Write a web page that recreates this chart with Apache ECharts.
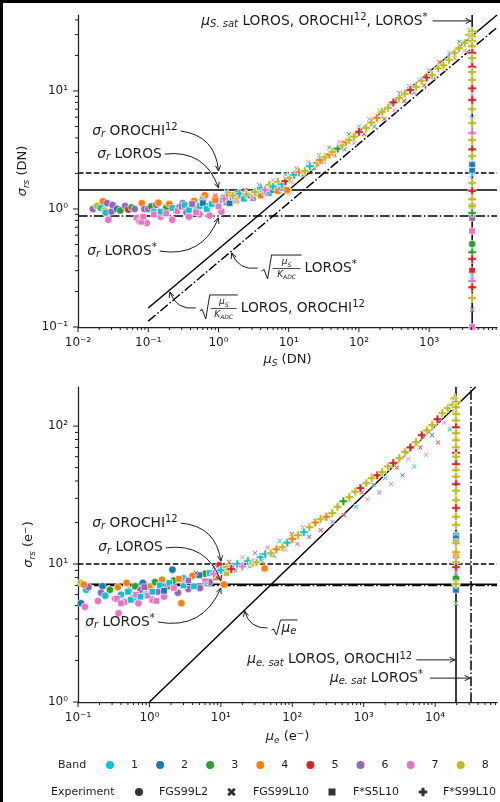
<!DOCTYPE html>
<html><head><meta charset="utf-8">
<script src="https://cdn.jsdelivr.net/npm/echarts@6/dist/echarts.min.js"></script>
<style>html,body{margin:0;padding:0;background:#fff;overflow:hidden}#c{width:500px;height:802px}.bl{position:absolute;background:#000}</style>
</head><body>
<div id="c"></div>
<div class="bl" style="left:0;top:0;width:3px;height:802px"></div>
<div class="bl" style="left:0;top:0;width:500px;height:3px"></div>
<script>
// ---------- data ----------
const bandColors = ['#17becf','#1f77b4','#2ca02c','#ff7f0e','#d62728','#9467bd','#e377c2','#bcbd22'];
const bandLabels = ['1','2','3','4','5','6','7','8'];
const experimentLabels = ['FGS99L2','FGS99L10','F*S5L10','F*S99L10'];

// top panel (DN): [mu_S, sigma_rs, band]
const dnFGS99L2 = [[0.0163,1.00,6],[0.0186,1.06,8],[0.021,1.02,1],[0.0226,1.16,4],[0.024,0.97,8],[0.026,1.12,6],[0.025,0.93,1],[0.027,0.81,7],[0.030,0.95,6],[0.031,1.08,6],[0.036,1.0,2],[0.040,0.97,3],[0.047,1.06,6],[0.052,0.99,5],[0.058,1.03,3],[0.064,1.00,6],[0.069,0.84,7],[0.075,0.79,7],[0.081,1.12,4],[0.088,1.0,6],[0.095,0.76,7],[0.1,1.0,6],[0.11,1.05,3],[0.12,0.95,1],[0.13,1.08,6],[0.14,1.13,4],[0.15,0.86,7],[0.16,0.92,7],[0.18,1.02,3],[0.2,1.1,4],[0.22,0.81,7],[0.25,0.97,2],[0.28,1.04,6],[0.31,1.12,6],[0.35,0.94,6],[0.38,0.86,7],[0.42,1.08,3],[0.45,1.17,4],[0.5,1.0,6],[0.54,0.9,7],[0.6,1.2,3],[0.64,1.31,4],[0.7,1.05,1],[0.75,0.88,7],[0.83,1.12,6],[0.9,1.22,5],[1.0,1.08,6],[1.1,0.95,7],[1.2,1.25,3],[1.4,1.32,4],[1.6,1.2,6],[1.9,1.35,2],[2.3,1.28,6],[9.8,1.42,4],[4095,0.505,3],[4095,1.06,6]];
const dnFGS99L10 = [[0.6,1.25,7],[0.9,1.3,5],[1.3,1.4,1],[1.8,1.15,8],[2.4,1.45,5],[3.0,1.25,7],[3.8,1.6,6],[4.8,1.35,2],[6,1.75,7],[7.5,1.5,5],[9,1.95,1],[11,1.7,7],[13,2.2,6],[16,1.95,2],[19,2.5,7],[23,2.2,5],[27,2.85,1],[32,2.5,7],[38,3.3,6],[45,2.85,5],[53,3.7,7],[62,3.2,2],[72,4.3,3],[85,3.6,7],[100,5.0,1],[118,4.3,5],[140,5.8,7],[165,5.0,2],[195,6.8,6],[230,5.8,5],[270,7.8,1],[320,6.9,7],[380,9.6,2],[440,8.2,5],[520,11.0,7],[610,9.6,6],[720,12.5,1],[850,11.2,5],[1000,15,7],[1180,12.8,2],[1400,17.5,5],[1650,15.3,7],[1950,21,1],[2300,19,5],[2700,26,2],[3200,22,7],[3700,33,1],[4095,27,7],[4095,23,5],[4095,18,1],[4095,13.5,6],[4095,9.5,7],[4095,5.9,2],[4095,2.6,7],[4095,1.94,1],[4095,0.276,1],[4095,0.14,5]];
const dnFS5L10 = [[0.08,0.78,7],[0.085,0.86,7],[0.12,0.9,7],[0.15,0.95,1],[0.18,0.92,7],[0.22,1.02,1],[0.26,0.96,7],[0.3,1.05,6],[0.33,1.08,1],[0.38,0.98,1],[0.42,1.1,6],[0.48,0.94,7],[0.54,1.06,1],[0.6,1.12,2],[0.68,1.0,1],[0.8,1.1,1],[0.9,1.18,4],[1.0,1.05,7],[1.15,1.2,1],[1.3,1.14,6],[1.44,1.12,2],[1.6,1.26,1],[1.8,1.18,7],[2.0,1.29,4],[2.3,1.22,1],[2.7,1.3,2],[3.1,1.24,6],[3.5,1.35,1],[4.0,1.3,4],[4.6,1.4,7],[5.2,1.36,1],[6.0,1.45,2],[7.0,1.42,4],[8.2,1.5,1],[9.5,1.45,4],[4095,2.4,2],[4095,2.1,2],[4095,0.84,6],[4095,0.65,7],[4095,0.30,5],[4095,0.10,7]];
const dnFS99L10 = [[1.2,1.22,7],[1.6,1.3,8],[2.0,1.35,1],[2.5,1.33,8],[3.3,1.39,8],[4.0,1.5,1],[4.6,1.45,7],[5.3,1.6,8],[6.0,1.55,1],[7.0,1.7,8],[8.0,1.62,1],[9.0,1.72,5],[10.3,1.83,8],[12,1.95,1],[14,2.05,4],[17,2.1,8],[20,2.3,1],[25,2.45,8],[28,2.6,4],[33,2.75,8],[38,2.9,4],[42,3.04,8],[50,3.25,3],[58,3.45,8],[65,3.7,4],[73,3.84,8],[85,4.1,8],[100,4.5,5],[127,4.86,8],[150,5.4,8],[180,5.9,4],[215,6.64,8],[260,7.2,8],[310,8.0,5],[375,8.73,8],[450,9.5,8],[540,10.2,5],[653,10.8,8],[780,12.2,8],[920,13.0,5],[1100,13.7,8],[1350,15.5,8],[1600,16.5,8],[1923,18.3,8],[2300,21,8],[2670,23.1,8],[3200,25.5,8],[3700,29.8,8],[4095,32,8],[4095,29,8],[4095,26.5,8],[4095,24,8],[4095,21,5],[4095,19,8],[4095,16,5],[4095,14.5,8],[4095,12.4,8],[4095,10.5,5],[4095,8.4,5],[4095,7,8],[4095,5.35,8],[4095,4.4,7],[4095,3.84,8],[4095,3.2,5],[4095,2.8,8],[4095,1.66,8],[4095,1.42,5],[4095,1.21,8],[4095,1.06,8],[4095,0.925,3],[4095,0.43,3],[4095,0.377,5],[4095,0.245,7],[4095,0.217,5],[4095,0.176,8]];

// bottom panel (e-): [mu_e, sigma_rs, band]
const eFGS99L2 = [[0.11,7.3,8],[0.11,5.2,2],[0.125,4.9,7],[0.13,6.5,1],[0.14,6.8,6],[0.12,7.1,4],[0.19,5.4,7],[0.22,6.9,2],[0.21,6.2,6],[0.24,5.9,1],[0.28,6.5,3],[0.33,5.6,7],[0.37,4.4,7],[0.36,6.8,4],[0.4,6.0,1],[0.45,5.3,7],[0.48,7.3,4],[0.52,6.4,6],[0.6,5.7,1],[0.63,6.9,3],[0.7,5.2,7],[0.75,6.5,6],[0.81,7.3,2],[0.9,6.0,1],[1.0,6.8,4],[1.1,5.5,7],[1.2,7.4,3],[1.3,6.3,6],[1.5,7.7,4],[1.6,5.8,7],[1.8,6.9,6],[2.1,9.1,2],[2.2,7.6,3],[2.5,6.2,6],[2.8,5.2,4],[3.0,7.9,1],[3.5,6.6,6],[4.0,8.2,4],[5.1,6.7,6],[6.0,8.5,3],[7.0,7.4,6],[9.5,9.8,5],[11,7.1,4],[41,9.3,4],[19600,7.9,3]];
const eFGS99L10 = [[3,7.5,7],[4.5,8.6,5],[6,7.2,1],[8,9.5,6],[10,8.0,7],[13,10.4,5],[16,9.0,2],[20,11.2,7],[25,9.6,1],[30,12.0,6],[37,10.5,5],[45,13.2,7],[55,11.5,2],[67,14.6,1],[80,12.7,7],[98,16.5,5],[118,14,6],[142,18.5,7],[172,15.8,2],[208,20.6,1],[250,17.6,5],[300,23,7],[365,20.2,6],[440,26,2],[530,22.6,5],[640,29,7],[780,26,1],[940,33,5],[1130,29.5,7],[1370,37.5,2],[1650,33,6],[2000,42,1],[2400,38,7],[2900,50,5],[3500,44,2],[4200,58,7],[5100,51,1],[6200,70,5],[7500,62,7],[9000,86,2],[11000,76,5],[13300,106,7],[16000,95,1],[18500,130,5],[19600,130,2],[19600,85,7],[19600,56,1],[19600,31,7],[19600,16.7,1],[19600,8.6,6],[19600,5.2,3]];
const eFS5L10 = [[0.35,5.6,7],[0.4,5.2,7],[0.5,6.3,1],[0.55,5.5,1],[0.65,6.0,7],[0.75,5.8,1],[0.85,6.8,6],[0.95,5.9,7],[1.1,6.3,1],[1.25,5.4,7],[1.4,7.0,1],[1.6,6.4,2],[1.9,7.3,1],[2.2,6.7,7],[2.6,7.8,4],[3.0,7.0,1],[3.5,7.6,6],[4.2,6.9,1],[5.0,8.3,2],[6.0,7.5,7],[7.0,8.6,1],[8.5,8.0,4],[10,9.0,1],[12,8.6,8],[14,9.4,2],[19600,6.5,2],[19600,11.5,4],[19600,14.8,2],[19600,16,2]];
const eFS99L10 = [[8,8.5,7],[10,9.0,1],[12,9.5,8],[14,9.2,5],[17,10.0,1],[20,9.6,7],[24,10.5,1],[28,10.2,8],[31.6,10.3,8],[36,11.2,1],[42,11.8,1],[50,12.0,8],[60,12.8,4],[73,13.3,8],[85,14.3,1],[100,15.2,4],[120,16.2,8],[145,17.0,1],[174,18.5,8],[210,20,4],[250,21.2,8],[300,22,4],[363,23.4,8],[430,26,8],[520,28.5,3],[630,30.6,8],[760,33.5,8],[900,35.5,5],[1090,38.6,8],[1300,42,8],[1550,44,5],[1820,46.4,8],[2200,51,8],[2600,54,5],[3160,58.6,8],[3800,65,8],[4500,70,5],[5400,76.6,8],[6500,86,5],[7700,93,8],[9100,102,8],[10800,112,5],[12600,124,8],[15000,135,8],[17400,142,8],[18700,159,8],[19600,150,8],[19600,137,8],[19600,122,8],[19600,110,8],[19600,98,5],[19600,89,8],[19600,79,8],[19600,70,8],[19600,64,5],[19600,60,8],[19600,53,5],[19600,48,8],[19600,43,8],[19600,38,5],[19600,34,8],[19600,29,8],[19600,25.5,5],[19600,22,8],[19600,19.2,8],[19600,14.2,8],[19600,12.2,8],[19600,10.3,8],[19600,9.5,5],[19600,7.16,8]];

// axes
const topXRange = [0.01, 9250], topYRange = [0.1, 44];
const botXRange = [0.1, 73500], botYRange = [1, 192];
const topXDecades = [-2,-1,0,1,2,3], topYDecades = [-1,0,1];
const botXDecades = [-1,0,1,2,3,4], botYDecades = [0,1,2];

// reference levels
const sigmaDN = {orochi: 2.02, loros: 1.45, lorosStar: 0.87};
const sigmaE = {orochi: 10.0, loros: 7.15, lorosStar: 7.0};
const satDN = 4095;
const satE = {loros: 19600, lorosStar: 31800};
const sqrtDN = {loros: [[0.1,0.145],[9250,44]], lorosStar: [[0.1,0.112],[9250,34.5]]};
const sqrtE = [[1,1],[36900,192]];

// ---------- styling ----------
const FONT = 'DejaVu Sans', TXT = '#1e1e1e', AX = '#1e1e1e';
const AFS = 13.8;
const DASHED = [5.5,2.4], DASHDOT = [9.6,2.4,1.5,2.4];
function richSet(fs){
  const s = Math.round(fs*0.7);
  return {
    it:{fontFamily:FONT,fontSize:fs,fontStyle:'italic',fill:TXT,color:TXT,lineHeight:fs+3},
    n:{fontFamily:FONT,fontSize:fs,fill:TXT,color:TXT,lineHeight:fs+3},
    sub:{fontFamily:FONT,fontSize:s,fontStyle:'italic',fill:TXT,color:TXT,verticalAlign:'bottom',lineHeight:s},
    sup:{fontFamily:FONT,fontSize:s,fill:TXT,color:TXT,verticalAlign:'top',lineHeight:s}
  };
}
const SUP = {'-':'⁻','0':'⁰','1':'¹','2':'²','3':'³','4':'⁴','5':'⁵'};
function powLabel(v){
  const e = Math.log10(v), r = Math.round(e);
  if (Math.abs(e-r) > 1e-6) return '';
  return '10' + String(r).split('').map(c=>SUP[c]).join('');
}
function logAxis(gi, range, name, nameGap){
  return {type:'log', logBase:10, gridIndex:gi, min:range[0], max:range[1],
    axisLine:{show:true, onZero:false, lineStyle:{color:AX, width:1.25}},
    axisTick:{show:false}, minorTick:{show:false}, splitLine:{show:false}, minorSplitLine:{show:false},
    axisLabel:{formatter:powLabel, fontFamily:FONT, fontSize:12, color:TXT, margin:10, showMinLabel:true, showMaxLabel:true},
    name, nameLocation:'middle', nameGap,
    nameTextStyle:{fontFamily:FONT, fontSize:13, color:TXT, lineHeight:16, rich:richSet(13)}};
}
function tickValues(decades, range){
  const out = [];
  decades.forEach(d=>{
    const b = Math.pow(10,d);
    if (b>=range[0]*0.999 && b<=range[1]) out.push([b,1]);
    for (let k=2;k<=9;k++){ const v=k*b; if (v>=range[0] && v<=range[1]) out.push([v,0]); }
  });
  return out;
}
function xTicks(gi, decades, xr, yr){
  return {type:'custom', xAxisIndex:gi, yAxisIndex:gi, z:6, silent:true, clip:false,
    data: tickValues(decades, xr).map(t=>[t[0], yr[0], t[1]]),
    renderItem:(p, api)=>{ const c = api.coord([api.value(0), api.value(1)]); const L = api.value(2) ? 5 : 3;
      return {type:'line', shape:{x1:c[0],y1:c[1],x2:c[0],y2:c[1]+L}, style:{stroke:AX, lineWidth:1}}; }};
}
function yTicks(gi, decades, xr, yr){
  return {type:'custom', xAxisIndex:gi, yAxisIndex:gi, z:6, silent:true, clip:false,
    data: tickValues(decades, yr).map(t=>[xr[0], t[0], t[1]]),
    renderItem:(p, api)=>{ const c = api.coord([api.value(0), api.value(1)]); const L = api.value(2) ? 5 : 3;
      return {type:'line', shape:{x1:c[0]-L,y1:c[1],x2:c[0],y2:c[1]}, style:{stroke:AX, lineWidth:1}}; }};
}
function refLine(gi, data, dash){
  return {type:'line', xAxisIndex:gi, yAxisIndex:gi, data, symbol:'none', showSymbol:false, silent:true, z:1,
    lineStyle:{color:'#000', width:1.5, type:dash}};
}
const SYM_X = 'path://M1.6,0L5,3.4L8.4,0L10,1.6L6.6,5L10,8.4L8.4,10L5,6.6L1.6,10L0,8.4L3.4,5L0,1.6Z';
const SYM_P = 'path://M3.4,0H6.6V3.4H10V6.6H6.6V10H3.4V6.6H0V3.4H3.4Z';
function scat(gi, data, symbol, size){
  return {type:'scatter', xAxisIndex:gi, yAxisIndex:gi, data, symbol, symbolSize:size, z:3, silent:true,
    itemStyle:{color:p=>bandColors[p.data[2]-1], borderColor:'#fff', borderWidth:0.6, opacity:1}};
}
function txt(x,y,text,fs,align){
  return {type:'text', x, y, style:{text, rich:richSet(fs), fontFamily:FONT, fontSize:fs, fill:TXT, align, verticalAlign:'middle', lineHeight:fs+3}};
}
function annSeries(gi, anns){
  return {type:'custom', xAxisIndex:gi, yAxisIndex:gi, z:10, silent:true, clip:false,
    data: anns.map(a=>[a.to[0], a.to[1]]),
    renderItem:(params, api)=>{
      const a = anns[params.dataIndex];
      const t = api.coord(a.text), e = api.coord(a.to);
      const ch = []; let s;
      const x0 = t[0], y0 = t[1];
      if (a.kind === 'label'){
        ch.push(txt(x0, y0, a.label, AFS, 'right'));
        s = [x0 + a.gap, y0];
      } else if (a.kind === 'frac'){
        const w = a.w;
        ch.push({type:'polyline', shape:{points:[[x0,y0+3],[x0+2.5,y0+1.5],[x0+6,y0+11],[x0+10,y0-13],[x0+10+w,y0-13]]}, style:{stroke:TXT, lineWidth:1, fill:null}});
        ch.push(txt(x0+10+w/2, y0-6, a.num, 9, 'center'));
        ch.push({type:'line', shape:{x1:x0+11, y1:y0+0.5, x2:x0+9+w, y2:y0+0.5}, style:{stroke:TXT, lineWidth:0.8}});
        ch.push(txt(x0+10+w/2, y0+6.5, a.den, 9, 'center'));
        ch.push(txt(x0+10+w+3, y0, a.label, AFS, 'left'));
        s = [x0-4, y0];
      } else {
        const w = a.w;
        ch.push({type:'polyline', shape:{points:[[x0,y0+2],[x0+2,y0+1],[x0+5,y0+7],[x0+9,y0-8],[x0+9+w,y0-8]]}, style:{stroke:TXT, lineWidth:1, fill:null}});
        ch.push(txt(x0+10, y0, a.label, AFS, 'left'));
        s = [x0-4, y0];
      }
      const mx=(s[0]+e[0])/2, my=(s[1]+e[1])/2, dx=e[0]-s[0], dy=e[1]-s[1];
      const cx = mx + a.rad*dy, cy = my - a.rad*dx;
      ch.push({type:'bezierCurve', shape:{x1:s[0],y1:s[1],x2:e[0],y2:e[1],cpx1:cx,cpy1:cy}, style:{stroke:TXT, lineWidth:1, fill:null}});
      let ux=e[0]-cx, uy=e[1]-cy; const n=Math.hypot(ux,uy)||1; ux/=n; uy/=n;
      const L=6, th=0.45;
      const rot=(x,y,g)=>[x*Math.cos(g)-y*Math.sin(g), x*Math.sin(g)+y*Math.cos(g)];
      const r1=rot(ux,uy,th), r2=rot(ux,uy,-th);
      ch.push({type:'polyline', shape:{points:[[e[0]-L*r1[0], e[1]-L*r1[1]], [e[0],e[1]], [e[0]-L*r2[0], e[1]-L*r2[1]]]}, style:{stroke:TXT, lineWidth:1, fill:null}});
      return {type:'group', children:ch};
    }};
}

// annotation layout (data coordinates of anchors / arrow tips)
const topAnn = [
  {kind:'label', label:'{it|σ}{sub|r} OROCHI{sup|12}', text:[0.263,4.58], to:[1,2.10], gap:3, rad:0.4},
  {kind:'label', label:'{it|σ}{sub|r} LOROS', text:[0.156,2.92], to:[1,1.51], gap:3, rad:0.4},
  {kind:'label', label:'{it|σ}{sub|r} LOROS{sup|*}', text:[0.132,0.44], to:[1,0.84], gap:3, rad:-0.4},
  {kind:'frac', num:'{it|μ}{sub|S}', den:'{it|K}{sub|ADC}', w:30, label:'LOROS{sup|*}', text:[4.11,0.316], to:[1.54,0.424], rad:0.4},
  {kind:'frac', num:'{it|μ}{sub|S}', den:'{it|K}{sub|ADC}', w:28, label:'LOROS, OROCHI{sup|12}', text:[0.541,0.145], to:[0.203,0.198], rad:0.4},
  {kind:'label', label:'{it|μ}{sub|S. sat} LOROS, OROCHI{sup|12}, LOROS{sup|*}', text:[950,39.2], to:[3950,39.2], gap:5, rad:0}
];
const botAnn = [
  {kind:'label', label:'{it|σ}{sub|r} OROCHI{sup|12}', text:[2.49,19.8], to:[10,10.5], gap:3, rad:0.4},
  {kind:'label', label:'{it|σ}{sub|r} LOROS', text:[1.54,13.1], to:[10,7.53], gap:3, rad:0.4},
  {kind:'label', label:'{it|σ}{sub|r} LOROS{sup|*}', text:[1.19,3.80], to:[10,6.7], gap:3, rad:-0.4},
  {kind:'root', label:'{it|μ}{sub|e}', w:17, text:[51.2,3.44], to:[21.5,4.57], rad:0.4},
  {kind:'label', label:'{it|μ}{sub|e. sat} LOROS, OROCHI{sup|12}', text:[4775,2.02], to:[19000,2.02], gap:4, rad:0},
  {kind:'label', label:'{it|μ}{sub|e. sat} LOROS{sup|*}', text:[6790,1.49], to:[30800,1.49], gap:7, rad:0}
];

// legend graphics
function plusPts(cx,cy,s,a){ return [[-a,-s],[a,-s],[a,-a],[s,-a],[s,a],[a,a],[a,s],[-a,s],[-a,a],[-s,a],[-s,-a],[-a,-a]].map(p=>[cx+p[0],cy+p[1]]); }
function xPts(cx,cy,s,a){ const c=Math.SQRT1_2; return [[-a,-s],[a,-s],[a,-a],[s,-a],[s,a],[a,a],[a,s],[-a,s],[-a,a],[-s,a],[-s,-a],[-a,-a]].map(p=>[cx+(p[0]-p[1])*c, cy+(p[0]+p[1])*c]); }
const LG = '#333';
const legendFont = {fontFamily:FONT, fontSize:11, fill:TXT, verticalAlign:'middle'};
const graphic = [
  {type:'text', x:58, y:765, style:Object.assign({text:'Band', align:'left'}, legendFont)},
  ...bandLabels.map((b,i)=>({type:'circle', shape:{cx:110+50.1*i, cy:765, r:4}, style:{fill:bandColors[i]}})),
  ...bandLabels.map((b,i)=>({type:'text', x:134.5+50.1*i, y:765, style:Object.assign({text:b, align:'center'}, legendFont)})),
  {type:'text', x:51, y:792, style:Object.assign({text:'Experiment', align:'left'}, legendFont)},
  {type:'circle', shape:{cx:139, cy:792, r:4}, style:{fill:LG}},
  {type:'polygon', shape:{points:xPts(231.5,792,4.6,1.5)}, style:{fill:LG}},
  {type:'rect', shape:{x:328.5, y:788.5, width:7, height:7}, style:{fill:LG}},
  {type:'polygon', shape:{points:plusPts(423,792,4.2,1.5)}, style:{fill:LG}},
  ...[159,253,353,443].map((x,i)=>({type:'text', x, y:792, style:Object.assign({text:experimentLabels[i], align:'left'}, legendFont)}))
];

const option = {
  animation:false,
  backgroundColor:'#fff',
  grid:[{left:78, top:15, width:420, height:312}, {left:78, top:387, width:420, height:315}],
  xAxis:[logAxis(0, topXRange, '{it|μ}{sub|S} (DN)', 25), logAxis(1, botXRange, '{it|μ}{sub|e} (e{sup|−})', 27)],
  yAxis:[logAxis(0, topYRange, '{it|σ}{sub|rs} (DN)', 41), logAxis(1, botYRange, '{it|σ}{sub|rs} (e{sup|−})', 41)],
  series:[
    refLine(0, [[topXRange[0],sigmaDN.orochi],[topXRange[1],sigmaDN.orochi]], DASHED),
    refLine(0, [[topXRange[0],sigmaDN.loros],[topXRange[1],sigmaDN.loros]], 'solid'),
    refLine(0, [[topXRange[0],sigmaDN.lorosStar],[topXRange[1],sigmaDN.lorosStar]], DASHDOT),
    refLine(0, sqrtDN.loros, 'solid'),
    refLine(0, sqrtDN.lorosStar, DASHDOT),
    refLine(0, [[satDN,topYRange[0]],[satDN,topYRange[1]]], 'solid'),
    refLine(1, [[botXRange[0],sigmaE.orochi],[botXRange[1],sigmaE.orochi]], DASHED),
    refLine(1, [[botXRange[0],sigmaE.lorosStar],[botXRange[1],sigmaE.lorosStar]], DASHDOT),
    refLine(1, [[botXRange[0],sigmaE.loros],[botXRange[1],sigmaE.loros]], 'solid'),
    refLine(1, sqrtE, 'solid'),
    refLine(1, [[satE.loros,botYRange[0]],[satE.loros,botYRange[1]]], 'solid'),
    refLine(1, [[satE.lorosStar,botYRange[0]],[satE.lorosStar,botYRange[1]]], DASHDOT),
    scat(0, dnFGS99L2, 'circle', 7.5),
    scat(0, dnFS5L10, 'rect', 6.5),
    scat(0, dnFGS99L10, SYM_X, 5),
    scat(0, dnFS99L10, SYM_P, 8.5),
    scat(1, eFGS99L2, 'circle', 7.5),
    scat(1, eFS5L10, 'rect', 6.5),
    scat(1, eFGS99L10, SYM_X, 5),
    scat(1, eFS99L10, SYM_P, 8.5),
    xTicks(0, topXDecades, topXRange, topYRange), yTicks(0, topYDecades, topXRange, topYRange),
    xTicks(1, botXDecades, botXRange, botYRange), yTicks(1, botYDecades, botXRange, botYRange),
    annSeries(0, topAnn), annSeries(1, botAnn)
  ],
  graphic
};
const chart = echarts.init(document.getElementById('c'), null, {renderer:'canvas'});
chart.setOption(option);
</script>
</body></html>
